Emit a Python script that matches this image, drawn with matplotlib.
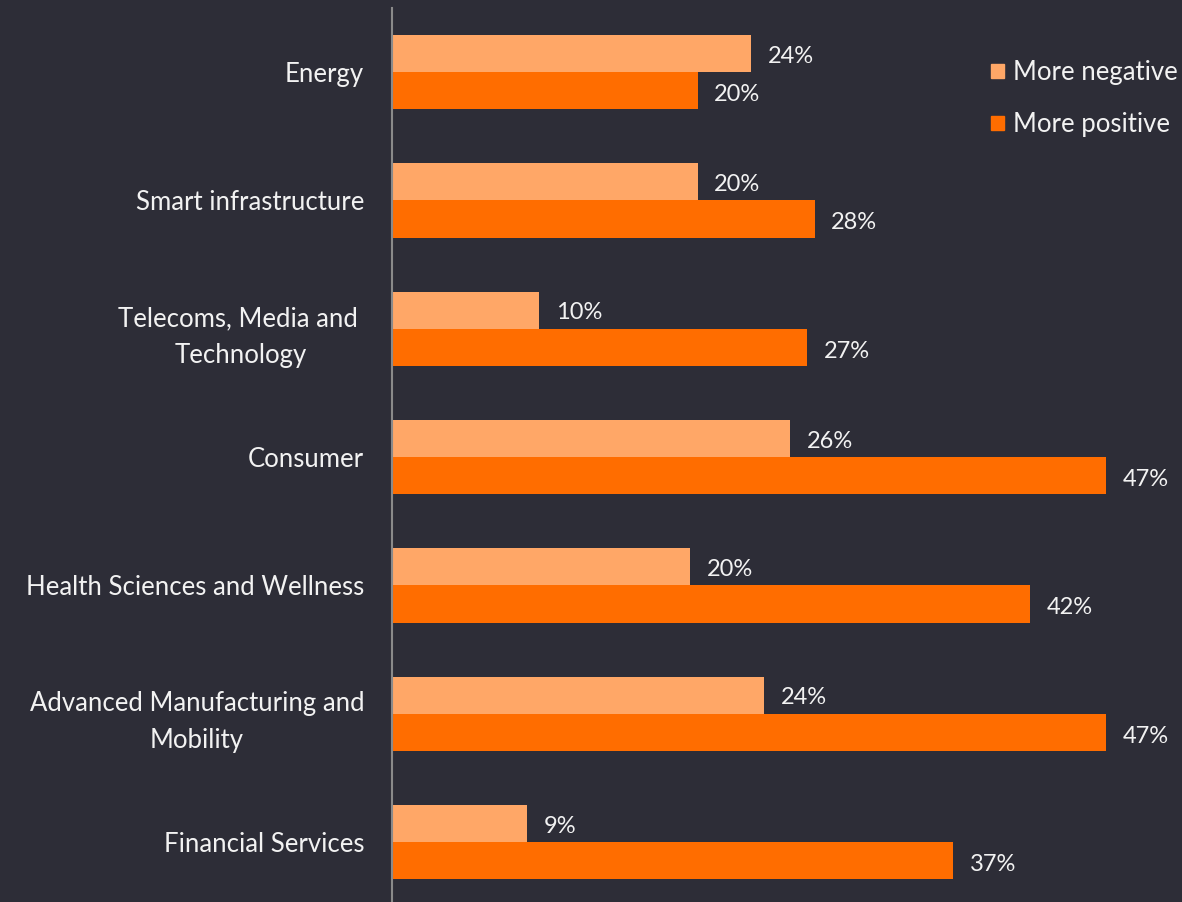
import numpy as np
import matplotlib.pyplot as plt
from matplotlib.patches import Patch

categories = ['Energy', 'Smart infrastructure', 'Telecoms, Media and \nTechnology',
              'Consumer', 'Health Sciences and Wellness',
              'Advanced Manufacturing and\nMobility', 'Financial Services']
negative = [23.6, 20.1, 9.7, 26.2, 19.6, 24.5, 8.9]
positive = [20.1, 27.8, 27.3, 47.0, 42.0, 47.0, 36.9]
neg_labels = ['24%', '20%', '10%', '26%', '20%', '24%', '9%']
pos_labels = ['20%', '28%', '27%', '47%', '42%', '47%', '37%']

bg = '#2d2d37'
c_neg = '#ffa767'
c_pos = '#ff6d00'
txt = '#f2f2f2'

plt.rcParams['font.family'] = ['Lato', 'DejaVu Sans']

fig = plt.figure(figsize=(11.82, 9.02), dpi=100, facecolor=bg)
ax = fig.add_axes([392 / 1182, 0, 760 / 1182, 1 - 8 / 902])
ax.set_facecolor(bg)

y = np.arange(len(categories))
h = 0.29
ax.barh(y - h / 2, negative, height=h, color=c_neg)
ax.barh(y + h / 2, positive, height=h, color=c_pos)

for yi, v, lab in zip(y, negative, neg_labels):
    ax.text(v + 1.1, yi - h / 2 + 0.02, lab, va='center', ha='left', color=txt, fontsize=17)
for yi, v, lab in zip(y, positive, pos_labels):
    ax.text(v + 1.1, yi + h / 2 + 0.03, lab, va='center', ha='left', color=txt, fontsize=17)

ax.set_xlim(0, 50)
ax.set_ylim(len(categories) - 0.5 - 4.2 / 128.4, -0.5)
ax.set_yticks(y)
ax.set_yticklabels(categories, fontsize=18.5, color=txt, linespacing=1.6)
for lbl in ax.get_yticklabels():
    lbl.set_multialignment('center')
ax.tick_params(axis='y', length=0, pad=20)
ax.set_xticks([])
for s in ['top', 'right', 'bottom']:
    ax.spines[s].set_visible(False)
ax.spines['left'].set_color('#8a8a8a')
ax.spines['left'].set_linewidth(1.5)

handles = [Patch(color=c_neg, label='More negative'), Patch(color=c_pos, label='More positive')]
fig.legend(handles=handles, loc='upper left', bbox_to_anchor=(991 / 1182, 1 - 60 / 902),
           frameon=False, fontsize=18.5, labelcolor=txt, handlelength=0.5, handleheight=0.5,
           handletextpad=0.35, labelspacing=1.05, borderpad=0, borderaxespad=0)

fig.savefig('out.png', dpi=100, facecolor=bg)
